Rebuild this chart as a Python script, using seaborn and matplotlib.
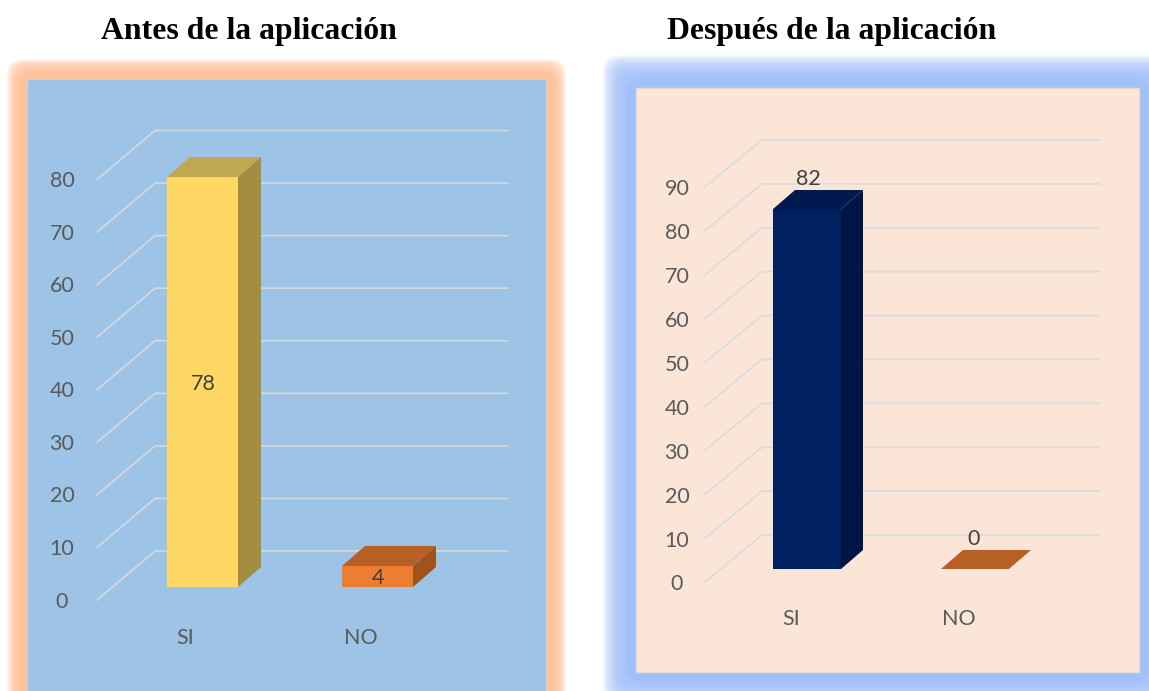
import numpy as np
import pandas as pd
import matplotlib
matplotlib.use("Agg")
import matplotlib.pyplot as plt
from matplotlib.patches import FancyBboxPatch, Polygon
import seaborn as sns

W, H = 1149, 691

categories = ["SI", "NO"]
antes_values = [78, 4]
despues_values = [82, 0]
antes_ticks = [0, 10, 20, 30, 40, 50, 60, 70, 80]
despues_ticks = [0, 10, 20, 30, 40, 50, 60, 70, 80, 90]
antes_title = "Antes de la aplicación"
despues_title = "Después de la aplicación"

sns.set_theme(style="white")
plt.rcParams["font.family"] = ["Lato", "DejaVu Sans"]

fig = plt.figure(figsize=(W / 100, H / 100), dpi=100, facecolor="white")

# Backdrop layer in pixel units, used for the soft frames and the headings
back = fig.add_axes([0, 0, 1, 1], zorder=0)
back.set_xlim(0, W)
back.set_ylim(H, 0)
back.axis("off")


def soft_frame(x0, y0, x1, y1, color, spread, plateau):
    """Stack translucent rounded boxes so the frame fades out at its rim."""
    steps = 24
    for i in range(steps + 1):
        grow = plateau + spread * (1 - i / steps)
        solid = i == steps
        box = FancyBboxPatch(
            (x0 - grow + 10, y0 - grow + 10),
            (x1 - x0) + 2 * grow - 20,
            (y1 - y0) + 2 * grow - 20,
            boxstyle="round,pad=10,rounding_size=16",
            fc=color, ec="none", alpha=1.0 if solid else 0.09, clip_on=False,
        )
        back.add_patch(box)


def draw_panel(values, ticks, rect, face, scale, colors, title, title_xy):
    left, top, right, bottom = rect
    ax = fig.add_axes([left / W, 1 - bottom / H, (right - left) / W, (bottom - top) / H],
                      zorder=1)
    data = pd.DataFrame({"cat": categories, "val": values})
    sns.barplot(data=data, x="cat", y="val", hue="cat", palette=[c[0] for c in colors],
                width=scale["bar_px"] / scale["step_px"], dodge=False, legend=False,
                saturation=1, ax=ax, linewidth=0, zorder=3)

    # Pixel scale of the panel, anchored on the first bar's centre and its base line
    px_x = lambda px: (px - scale["first_px"]) / scale["step_px"]
    px_y = lambda py: (scale["base_px"] - py) / scale["unit_px"]
    ax.set_xlim(px_x(left), px_x(right))
    ax.set_ylim(px_y(bottom), px_y(top))
    ax.set_facecolor(face)
    ax.set_xticks([])
    ax.set_yticks([])
    ax.set_xlabel("")
    ax.set_ylabel("")
    for spine in ax.spines.values():
        spine.set_color(scale["border"])
        spine.set_linewidth(1.0)

    # Floor-and-wall gridlines of the pseudo-3D frame
    front_off = px_y(scale["front0_py"])
    back_off = px_y(scale["back0_py"])
    xs = [px_x(scale["front_px"]), px_x(scale["back_px"]), px_x(scale["end_px"])]
    drop = scale["tick_drop"] / scale["unit_px"]
    for t in ticks:
        ys = [t + front_off, t + back_off, t + back_off]
        ax.plot(xs, ys, color=scale["grid"], lw=1.3, zorder=1, solid_capstyle="round")
        ax.text(px_x(scale["tick_px"]), t + front_off - drop, str(t), ha="center", va="center",
                fontsize=15.5, color="#5a5a5a", zorder=6)

    # Side and top faces extruded from each bar the library drew
    dx = scale["depth_px"][0] / scale["step_px"]
    dy = scale["depth_px"][1] / scale["unit_px"]
    for bar, (front, top_c, side) in zip(ax.patches, colors):
        x0, w = bar.get_x(), bar.get_width()
        h = bar.get_height()
        ax.add_patch(Polygon([(x0 + w, 0), (x0 + w + dx, dy), (x0 + w + dx, h + dy), (x0 + w, h)],
                             fc=side, ec="none", zorder=3.1))
        ax.add_patch(Polygon([(x0, h), (x0 + w, h), (x0 + w + dx, h + dy), (x0 + dx, h + dy)],
                             fc=top_c, ec="none", zorder=3.2))

    # Category names and value labels
    for i, (cat, val) in enumerate(zip(categories, values)):
        ax.text(i + px_x(scale["first_px"] + scale["cat_shift"]), px_y(scale["cat_py"]), cat,
                ha="center", va="center", fontsize=15.5, color="#5a5a5a", zorder=6)
        ax.text(i + px_x(scale["first_px"] + scale["label_shift"][i][0]),
                val + scale["label_shift"][i][1] / scale["unit_px"], str(val),
                ha="center", va="center", fontsize=15.5, color="#404040", zorder=6)

    back.text(*title_xy, title, ha="center", va="center", fontsize=22.9, fontweight="bold",
              family="Liberation Serif", color="black")


soft_frame(27, 79, 546, 720, "#ffc39a", 13, 7)
soft_frame(636, 88, 1139, 672, "#a0c0fa", 24, 9)

draw_panel(
    antes_values, antes_ticks, (27, 79, 546, 700), "#9dc3e6",
    dict(first_px=202.5, step_px=175, bar_px=71, base_px=587, unit_px=5.256,
         front0_py=600, back0_py=551, front_px=97, back_px=155, end_px=508, tick_px=62,
         depth_px=(23, 20), cat_shift=-17, cat_py=638, tick_drop=1.5,
         label_shift=[(0.5, -207), (0, -12)],
         border="#c9d3dc", grid="#d3d7dc"),
    [("#ffd764", "#bfa84f", "#a48c40"), ("#ed7d31", "#b86023", "#a0531d")],
    antes_title, (249, 31),
)

draw_panel(
    despues_values, despues_ticks, (636, 88, 1139, 672), "#fbe5d6",
    dict(first_px=807, step_px=168, bar_px=68, base_px=569, unit_px=4.39,
         front0_py=582, back0_py=535, front_px=705, back_px=762, end_px=1100, tick_px=677,
         depth_px=(22, 19), cat_shift=-16, cat_py=619, tick_drop=2.5,
         label_shift=[(1, 30), (-1, 30)],
         border="#e3dad3", grid="#d9dde0"),
    [("#002060", "#001a4f", "#001543"), ("#ed7d31", "#b86023", "#a0531d")],
    despues_title, (832, 31),
)

fig.savefig("out.png", dpi=100)
